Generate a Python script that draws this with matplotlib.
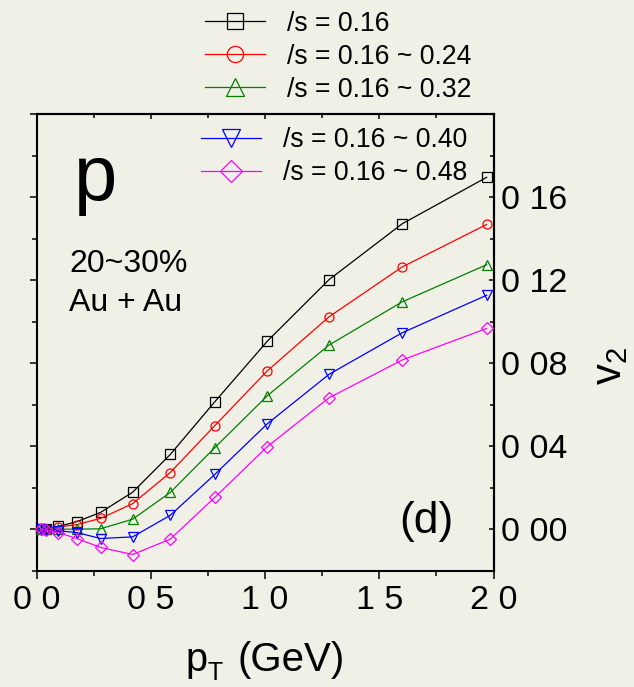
import matplotlib
matplotlib.use('Agg')
import matplotlib.pyplot as plt
from matplotlib.ticker import FixedLocator, MultipleLocator, NullFormatter

plt.rcParams['font.family'] = ['Liberation Sans', 'DejaVu Sans']
plt.rcParams['mathtext.fontset'] = 'custom'
plt.rcParams['mathtext.rm'] = 'Liberation Sans'
plt.rcParams['mathtext.it'] = 'Liberation Sans:italic'

W, H = 634, 687
BG = '#f1f0e6'

# transverse momentum grid (GeV)
pt = [0.02, 0.04, 0.095, 0.175, 0.28, 0.42, 0.585, 0.78, 1.01, 1.28, 1.60, 1.97]

# elliptic flow of protons for each eta/s setting
v2_a = [0.0, 0.0003, 0.0013, 0.0036, 0.0081, 0.0178, 0.0360, 0.0614, 0.0906, 0.1202, 0.1471, 0.1695]
v2_b = [0.0, 0.0002, 0.0010, 0.0022, 0.0052, 0.0123, 0.0273, 0.0499, 0.0763, 0.1023, 0.1263, 0.1468]
v2_c = [0.0, 0.0, 0.0, 0.0, 0.0002, 0.0048, 0.0177, 0.0393, 0.0643, 0.0887, 0.1095, 0.1274]
v2_d = [0.0, -0.0002, -0.0008, -0.0016, -0.0045, -0.0037, 0.0067, 0.0264, 0.0508, 0.0746, 0.0946, 0.1127]
v2_e = [0.0, -0.0004, -0.0016, -0.0045, -0.0088, -0.0122, -0.0048, 0.0153, 0.0398, 0.0633, 0.0815, 0.0967]

series_labels = ['/s = 0.16', '/s = 0.16 ~ 0.24', '/s = 0.16 ~ 0.32',
                 '/s = 0.16 ~ 0.40', '/s = 0.16 ~ 0.48']
series_colors = ['black', '#ff0000', '#008000', '#0000ff', '#ff00ff']
series_markers = ['s', 'o', '^', 'v', 'D']
series_ms = [6.5, 6.5, 7.5, 7.5, 6.0]

x_ticks = [0.0, 0.5, 1.0, 1.5, 2.0]
x_ticklabels = ['0 0', '0 5', '1 0', '1 5', '2 0']
y_ticks = [0.0, 0.04, 0.08, 0.12, 0.16, 0.20]
y_ticklabels = ['0 00', '0 04', '0 08', '0 12', '0 16', '']


def fx(px):
    return px / W


def fy(py):
    return 1 - py / H


fig = plt.figure(figsize=(W / 100, H / 100), dpi=100, facecolor=BG)
ax = fig.add_axes([fx(36.7), fy(570.7), (493.5 - 36.7) / W, (570.7 - 114) / H])
ax.set_facecolor(BG)

handles = []
for v, c, m, ms in zip([v2_a, v2_b, v2_c, v2_d, v2_e], series_colors,
                       series_markers, series_ms):
    ln, = ax.plot(pt, v, color=c, lw=0.9, marker=m, ms=ms, mfc='none',
                  mec=c, mew=0.9, clip_on=False, zorder=3)
    handles.append(ln)

ax.set_xlim(0, 2.0)
ax.set_ylim(-0.02, 0.20)

for s in ax.spines.values():
    s.set_linewidth(1.5)

# bottom axis: outward ticks with labels
ax.xaxis.set_major_locator(FixedLocator(x_ticks))
ax.set_xticklabels(x_ticklabels)
ax.xaxis.set_minor_locator(MultipleLocator(0.25))
ax.tick_params(axis='x', which='major', direction='out', length=5.4, width=1.1,
               labelsize=24.5, pad=5)
ax.tick_params(axis='x', which='minor', direction='out', length=3.6, width=1.1)

# left axis: outward ticks, no labels
ax.yaxis.set_major_locator(FixedLocator(y_ticks))
ax.yaxis.set_minor_locator(MultipleLocator(0.02))
ax.yaxis.set_major_formatter(NullFormatter())
ax.tick_params(axis='y', which='major', direction='out', length=5.0, width=1.1)
ax.tick_params(axis='y', which='minor', direction='out', length=3.4, width=1.1)

# right axis: inward ticks carrying the labels
sec_y = ax.secondary_yaxis('right')
sec_y.yaxis.set_major_locator(FixedLocator(y_ticks))
sec_y.set_yticklabels(y_ticklabels)
sec_y.yaxis.set_minor_locator(MultipleLocator(0.02))
sec_y.tick_params(which='major', direction='in', length=3.6, width=1.1,
                  labelsize=24.5, pad=5.5)
sec_y.tick_params(which='minor', direction='in', length=3.0, width=1.1)
sec_y.spines['right'].set_linewidth(1.5)

# top axis: inward ticks only
sec_x = ax.secondary_xaxis('top')
sec_x.xaxis.set_major_locator(FixedLocator(x_ticks))
sec_x.xaxis.set_major_formatter(NullFormatter())
sec_x.xaxis.set_minor_locator(MultipleLocator(0.25))
sec_x.tick_params(which='major', direction='in', length=3.6, width=1.1)
sec_x.tick_params(which='minor', direction='in', length=2.6, width=1.1)
sec_x.spines['top'].set_linewidth(1.5)

# legends: three entries above the frame, two inside it
leg_kw = dict(frameon=False, fontsize=19.2, handlelength=2.25,
              handletextpad=0.82, labelspacing=0.26, borderpad=0,
              borderaxespad=0, markerscale=1.8, loc='upper left')
leg1 = fig.legend(handles[:3], series_labels[:3],
                  bbox_to_anchor=(fx(205), fy(10.7)), **leg_kw)
leg2 = fig.legend(handles[3:], series_labels[3:],
                  bbox_to_anchor=(fx(200.7), fy(127)), **leg_kw)

# annotations
fig.text(fx(74), fy(200.5), 'p', fontsize=56, ha='left', va='baseline')
fig.text(fx(69), fy(272), '20~30%', fontsize=23, ha='left', va='baseline')
fig.text(fx(69), fy(311), 'Au + Au', fontsize=23, ha='left', va='baseline')
fig.text(fx(399), fy(533), '(d)', fontsize=32, ha='left', va='baseline')

# axis titles, with the subscripts set low as separate pieces
fig.text(fx(185), fy(671), 'p', fontsize=28.5, ha='left', va='baseline')
fig.text(fx(208), fy(680), 'T', fontsize=18, ha='left', va='baseline')
fig.text(fx(237), fy(671), '(GeV)', fontsize=29, ha='left', va='baseline')
fig.text(fx(610), fy(366), r'v$_\mathrm{2}$', fontsize=30, rotation=90,
         ha='center', va='center')

fig.savefig('out.png', dpi=100, facecolor=BG)
